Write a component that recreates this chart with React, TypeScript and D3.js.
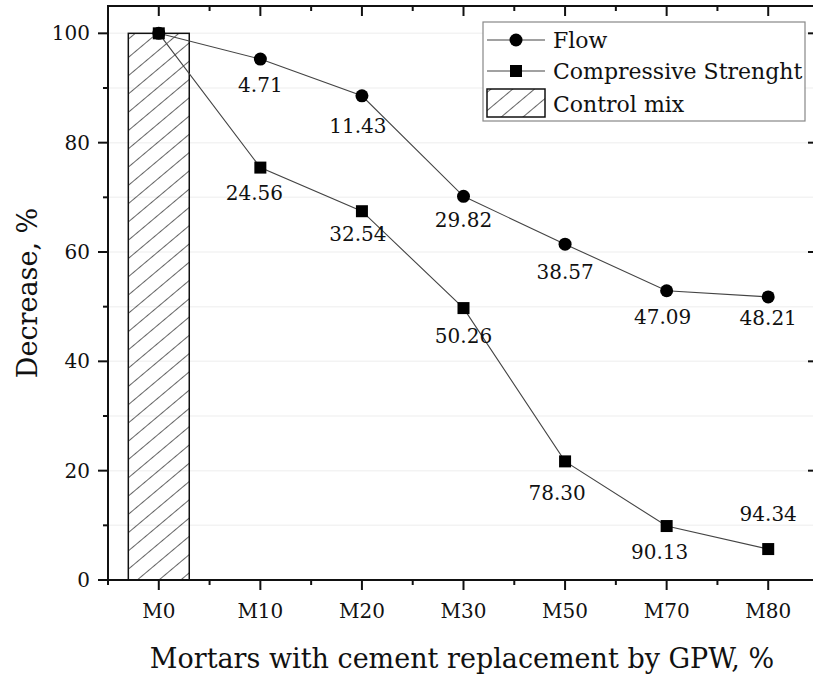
import React from "react";
import * as d3 from "d3";

// chart data
const categories = ["M0", "M10", "M20", "M30", "M50", "M70", "M80"];
const flowValues = [100, 95.29, 88.57, 70.18, 61.43, 52.91, 51.79];
const strengthValues = [100, 75.44, 67.46, 49.74, 21.7, 9.87, 5.66];
const flowLabels = ["", "4.71", "11.43", "29.82", "38.57", "47.09", "48.21"];
const strengthLabels = ["", "24.56", "32.54", "50.26", "78.30", "90.13", "94.34"];
const controlValue = 100;
const yTicks = [0, 20, 40, 60, 80, 100];
const yMinorTicks = [10, 30, 50, 70, 90];

// label nudges (dx, dy from point)
const flowLabelOffsets = [[0, 0], [0, 33], [-4, 37], [0, 31], [0, 35], [-4, 33], [0, 28]];
const strengthLabelOffsets = [[0, 0], [-6, 32], [-4, 30], [0, 35], [-8, 39], [-7, 33], [0, -28]];

const width = 813;
const height = 674;
const margin = { left: 108, right: -6, top: 6, bottom: 94 };
const font = "'DejaVu Serif', serif";

export default function App() {
  const x = d3
    .scaleBand()
    .domain(categories)
    .range([margin.left, width - margin.right])
    .padding(0);
  const y = d3
    .scaleLinear()
    .domain([0, 105])
    .range([height - margin.bottom, margin.top]);

  const cx = (c) => x(c) + x.bandwidth() / 2;
  const x0 = margin.left;
  const x1 = width - margin.right;
  const y0 = height - margin.bottom;
  const y1 = margin.top;

  const line = d3
    .line()
    .x((d, i) => cx(categories[i]))
    .y((d) => y(d));

  const barW = x.bandwidth() * 0.6;
  const edges = categories.map((c) => x(c)).concat([x1]);

  return (
    <div style={{ position: "fixed", left: 0, top: 0, width, height, overflow: "hidden", background: "#fff" }}>
      <svg width={width} height={height} style={{ display: "block" }} fontFamily={font}>
        <defs>
          <pattern
            id="hatch"
            width="14"
            height="14"
            patternUnits="userSpaceOnUse"
            patternTransform="rotate(-40)"
          >
            <line x1="0" y1="0" x2="14" y2="0" stroke="#111" strokeWidth="1.3" />
          </pattern>
          <clipPath id="plot">
            <rect x={x0} y={y1} width={x1 - x0} height={y0 - y1} />
          </clipPath>
        </defs>

        {/* faint grid */}
        {yTicks.concat(yMinorTicks).map((t) => (
          <line key={"g" + t} x1={x0} x2={width} y1={y(t)} y2={y(t)} stroke="#f3f3f3" strokeWidth="1.5" />
        ))}

        {/* control mix bar */}
        <rect
          x={cx("M0") - barW / 2}
          y={y(controlValue)}
          width={barW}
          height={y0 - y(controlValue)}
          fill="url(#hatch)"
          stroke="#111"
          strokeWidth="1.5"
        />

        {/* lines */}
        <g clipPath="url(#plot)">
          <path d={line(flowValues)} fill="none" stroke="#444" strokeWidth="1.1" />
          <path d={line(strengthValues)} fill="none" stroke="#444" strokeWidth="1.1" />
        </g>
        {flowValues.map((v, i) => (
          <circle key={"f" + i} cx={cx(categories[i])} cy={y(v)} r={6.5} fill="#000" />
        ))}
        {strengthValues.map((v, i) => (
          <rect key={"s" + i} x={cx(categories[i]) - 6} y={y(v) - 6} width={12} height={12} fill="#000" />
        ))}

        {/* value labels */}
        {flowLabels.map((l, i) =>
          l ? (
            <text
              key={"fl" + i}
              x={cx(categories[i]) + flowLabelOffsets[i][0]}
              y={y(flowValues[i]) + flowLabelOffsets[i][1]}
              textAnchor="middle"
              fontSize="20"
              fill="#111"
            >
              {l}
            </text>
          ) : null
        )}
        {strengthLabels.map((l, i) =>
          l ? (
            <text
              key={"sl" + i}
              x={cx(categories[i]) + strengthLabelOffsets[i][0]}
              y={y(strengthValues[i]) + strengthLabelOffsets[i][1]}
              textAnchor="middle"
              fontSize="20"
              fill="#111"
            >
              {l}
            </text>
          ) : null
        )}

        {/* frame: left, top, bottom (right edge sits past the window) */}
        <line x1={x0} x2={x0} y1={y1 - 1} y2={y0 + 1} stroke="#111" strokeWidth="2" />
        <line x1={x0} x2={width} y1={y1} y2={y1} stroke="#111" strokeWidth="2" />
        <line x1={x0} x2={width} y1={y0} y2={y0} stroke="#111" strokeWidth="2" />

        {/* y axis ticks, left side with labels, right side stubs */}
        {yTicks.map((t) => (
          <g key={"yt" + t}>
            <line x1={x0 - 10} x2={x0} y1={y(t)} y2={y(t)} stroke="#111" strokeWidth="2" />
            <line x1={x1 - 11} x2={width} y1={y(t)} y2={y(t)} stroke="#111" strokeWidth="2" />
            <text x={x0 - 18} y={y(t) + 7} textAnchor="end" fontSize="20" fill="#111">
              {t}
            </text>
          </g>
        ))}
        {yMinorTicks.map((t) => (
          <line key={"ym" + t} x1={x0 - 5} x2={x0} y1={y(t)} y2={y(t)} stroke="#111" strokeWidth="2" />
        ))}

        {/* x axis ticks */}
        {categories.map((c) => (
          <g key={"xt" + c}>
            <line x1={cx(c)} x2={cx(c)} y1={y0} y2={y0 + 10} stroke="#111" strokeWidth="2" />
            <line x1={cx(c)} x2={cx(c)} y1={y1} y2={y1 + 10} stroke="#111" strokeWidth="2" />
            <text x={cx(c)} y={y0 + 38} textAnchor="middle" fontSize="20" fill="#111">
              {c}
            </text>
          </g>
        ))}
        {edges.map((e, i) => (
          <g key={"xm" + i}>
            <line x1={e} x2={e} y1={y0} y2={y0 + 5} stroke="#111" strokeWidth="2" />
            <line x1={e} x2={e} y1={y1} y2={y1 + 5} stroke="#111" strokeWidth="2" />
          </g>
        ))}

        {/* axis titles */}
        <text x={462} y={y0 + 88} textAnchor="middle" fontSize="27" fill="#111">
          Mortars with cement replacement by GPW, %
        </text>
        <text
          transform={`translate(37,${(y0 + y1) / 2}) rotate(-90)`}
          textAnchor="middle"
          fontSize="27"
          fill="#111"
        >
          Decrease, %
        </text>

        {/* legend */}
        <g transform="translate(483,22)">
          <rect x={0} y={0} width={322} height={99} fill="#fff" stroke="#888" strokeWidth="1.2" />
          <line x1={4} x2={62} y1={18} y2={18} stroke="#444" strokeWidth="1.1" />
          <circle cx={33} cy={18} r={6.5} fill="#000" />
          <text x={70} y={26} fontSize="22" fill="#111">Flow</text>
          <line x1={4} x2={62} y1={49} y2={49} stroke="#444" strokeWidth="1.1" />
          <rect x={27} y={43} width={12} height={12} fill="#000" />
          <text x={70} y={57} fontSize="22" fill="#111">Compressive Strenght</text>
          <rect x={4} y={67} width={58} height={28} fill="url(#hatch)" stroke="#111" strokeWidth="1.5" />
          <text x={70} y={90} fontSize="22" fill="#111">Control mix</text>
        </g>
      </svg>
    </div>
  );
}
